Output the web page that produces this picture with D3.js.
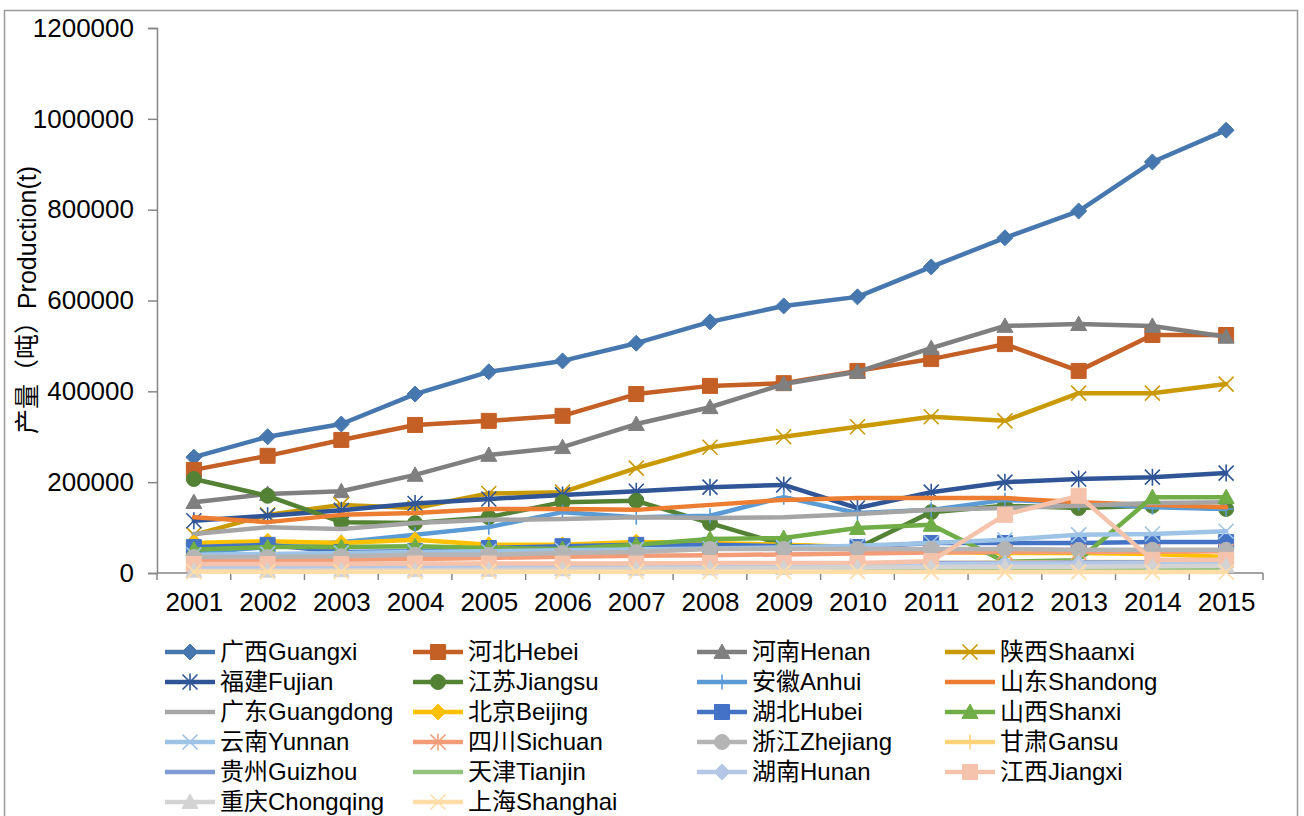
<!DOCTYPE html>
<html>
<head>
<meta charset="utf-8">
<script src="https://cdn.jsdelivr.net/npm/d3@7"></script>
<style>
  body { margin: 0; background: #fff; }
  svg { display: block; }
  text { font-family: "Liberation Sans", Arial, "Noto Sans CJK SC", sans-serif; fill: #000; }
</style>
</head>
<body>
<div id="chart"></div>
<script>
// categories
const years = ["2001", "2002", "2003", "2004", "2005", "2006", "2007", "2008",
  "2009", "2010", "2011", "2012", "2013", "2014", "2015"];
const yTicks = [0, 200000, 400000, 600000, 800000, 1000000, 1200000];

// production (t) per province
const guangxi = [255000, 300000, 328000, 394000, 443000, 467000, 506000, 553000, 588000, 608000, 674000, 738000, 797000, 905000, 975000];
const hebei = [227000, 258000, 293000, 326000, 335000, 346000, 394000, 412000, 418000, 445000, 471000, 504000, 445000, 524000, 524000];
const henan = [156000, 174000, 180000, 216000, 260000, 277000, 328000, 365000, 416000, 443000, 495000, 544000, 548000, 544000, 520000];
const shaanxi = [84000, 128000, 150000, 143000, 175000, 178000, 231000, 277000, 300000, 322000, 344000, 335000, 396000, 396000, 416000];
const fujian = [115000, 126000, 138000, 153000, 163000, 172000, 180000, 189000, 194000, 143000, 178000, 200000, 207000, 211000, 220000];
const jiangsu = [207000, 170000, 112000, 110000, 123000, 156000, 159000, 110000, 62000, 55000, 134000, 148000, 143000, 148000, 141000];
const anhui = [44000, 57000, 68000, 84000, 101000, 134000, 123000, 126000, 167000, 132000, 139000, 161000, 154000, 145000, 141000];
const shandong = [123000, 112000, 128000, 132000, 141000, 141000, 139000, 150000, 161000, 165000, 165000, 165000, 156000, 150000, 145000];
const guangdong = [86000, 101000, 97000, 110000, 117000, 119000, 123000, 121000, 123000, 130000, 139000, 143000, 148000, 154000, 156000];
const beijing = [66000, 70000, 66000, 73000, 62000, 62000, 68000, 66000, 62000, 57000, 46000, 44000, 44000, 42000, 35000];
const hubei = [57000, 62000, 46000, 48000, 55000, 59000, 62000, 62000, 59000, 57000, 66000, 66000, 66000, 68000, 68000];
const shanxi = [52000, 57000, 57000, 59000, 55000, 53000, 62000, 75000, 77000, 99000, 106000, 25000, 28000, 167000, 167000];
const yunnan = [40000, 42000, 44000, 46000, 48000, 50000, 52000, 54000, 56000, 60000, 66000, 73000, 84000, 86000, 92000];
const sichuan = [26000, 27000, 29000, 31000, 33000, 36000, 38000, 39000, 41000, 43000, 45000, 46000, 46000, 47000, 48000];
const zhejiang = [35000, 35000, 37000, 40000, 40000, 44000, 46000, 53000, 53000, 53000, 53000, 53000, 51000, 51000, 51000];
const gansu = [12000, 13000, 14000, 15000, 16000, 17000, 18000, 19000, 20000, 21000, 22000, 23000, 24000, 24000, 25000];
const guizhou = [17000, 17000, 18000, 18000, 19000, 19000, 20000, 20000, 21000, 21000, 22000, 22000, 23000, 23000, 24000];
const tianjin = [6000, 6000, 7000, 7000, 7000, 8000, 8000, 8000, 9000, 9000, 9000, 9000, 10000, 10000, 10000];
const hunan = [11000, 12000, 13000, 14000, 15000, 16000, 16000, 17000, 18000, 19000, 20000, 21000, 21000, 22000, 22000];
const jiangxi = [20000, 20000, 20000, 21000, 21000, 21000, 21000, 22000, 22000, 22000, 26000, 128000, 170000, 29000, 29000];
const chongqing = [5000, 5000, 6000, 6000, 7000, 8000, 9000, 10000, 11000, 12000, 13000, 14000, 14000, 15000, 16000];
const shanghai = [3000, 3000, 3000, 3000, 3000, 3000, 3000, 3000, 3000, 3000, 2000, 2000, 2000, 2000, 2000];

// series table: legend label, values, colour, marker
const series = [
  { name: "广西Guangxi", values: guangxi, color: "#4677ae", marker: "diamond" },
  { name: "河北Hebei", values: hebei, color: "#c45f26", marker: "square" },
  { name: "河南Henan", values: henan, color: "#7f7f7f", marker: "triangle" },
  { name: "陕西Shaanxi", values: shaanxi, color: "#c99a06", marker: "x" },
  { name: "福建Fujian", values: fujian, color: "#2f5597", marker: "star" },
  { name: "江苏Jiangsu", values: jiangsu, color: "#548235", marker: "circle" },
  { name: "安徽Anhui", values: anhui, color: "#5b9bd5", marker: "plus" },
  { name: "山东Shandong", values: shandong, color: "#ed7d31", marker: "none" },
  { name: "广东Guangdong", values: guangdong, color: "#a5a5a5", marker: "none" },
  { name: "北京Beijing", values: beijing, color: "#ffc000", marker: "diamond" },
  { name: "湖北Hubei", values: hubei, color: "#4472c4", marker: "square" },
  { name: "山西Shanxi", values: shanxi, color: "#70ad47", marker: "triangle" },
  { name: "云南Yunnan", values: yunnan, color: "#9dc3e6", marker: "x" },
  { name: "四川Sichuan", values: sichuan, color: "#f29d78", marker: "star" },
  { name: "浙江Zhejiang", values: zhejiang, color: "#b4b4b4", marker: "circle" },
  { name: "甘肃Gansu", values: gansu, color: "#ffd27a", marker: "plus" },
  { name: "贵州Guizhou", values: guizhou, color: "#7e9bd6", marker: "none" },
  { name: "天津Tianjin", values: tianjin, color: "#93c47d", marker: "none" },
  { name: "湖南Hunan", values: hunan, color: "#b4c7e7", marker: "diamond" },
  { name: "江西Jiangxi", values: jiangxi, color: "#f5c3ac", marker: "square" },
  { name: "重庆Chongqing", values: chongqing, color: "#d3d3d3", marker: "triangle" },
  { name: "上海Shanghai", values: shanghai, color: "#ffdca8", marker: "x" }
];

const W = 1304, H = 816;
const margin = { top: 28, right: 41, bottom: 243, left: 157 };
const width = W - margin.left - margin.right;
const height = H - margin.top - margin.bottom;

const svg = d3.select("#chart").append("svg")
  .attr("width", W)
  .attr("height", H);

// outer chart border
svg.append("rect")
  .attr("x", 4.5).attr("y", 10.5)
  .attr("width", 1293).attr("height", 830)
  .attr("fill", "none")
  .attr("stroke", "#999")
  .attr("stroke-width", 1.5);

const g = svg.append("g")
  .attr("transform", "translate(" + margin.left + "," + margin.top + ")");

const x = d3.scalePoint().domain(years).range([0, width]).padding(0.5);
const y = d3.scaleLinear().domain([0, 1200000]).range([height, 0]);
const step = x.step();

// y axis
const yAxis = g.append("g")
  .call(d3.axisLeft(y).tickValues(yTicks).tickFormat(d3.format("d")).tickSize(9).tickPadding(14));
yAxis.select(".domain").attr("stroke", "#868686").attr("stroke-width", 1.5);
yAxis.selectAll(".tick line").attr("stroke", "#868686").attr("stroke-width", 1.5);
yAxis.selectAll(".tick text").attr("font-size", 26).attr("fill", "#000")
  .attr("font-family", "'Liberation Sans', Arial, sans-serif");

// x axis: labels centred in each category, ticks between categories
const xAxis = g.append("g")
  .attr("transform", "translate(0," + height + ")")
  .call(d3.axisBottom(x).tickSize(0).tickPadding(20));
xAxis.select(".domain").remove();
xAxis.selectAll(".tick text").attr("font-size", 26).attr("fill", "#000")
  .attr("font-family", "'Liberation Sans', Arial, sans-serif");
const boundaries = years.map(d => x(d) - step / 2).concat([x(years[years.length - 1]) + step / 2]);
g.append("g").selectAll("line")
  .data(boundaries)
  .join("line")
  .attr("x1", d => d).attr("x2", d => d)
  .attr("y1", height).attr("y2", height + 7)
  .attr("stroke", "#868686").attr("stroke-width", 1.5);
g.append("line")
  .attr("x1", 0).attr("x2", boundaries[boundaries.length - 1])
  .attr("y1", height).attr("y2", height)
  .attr("stroke", "#868686").attr("stroke-width", 1.5);

// y axis title
svg.append("text")
  .attr("transform", "translate(36,300) rotate(-90)")
  .attr("text-anchor", "middle")
  .attr("font-size", 25)
  .text("产量（吨）Production(t)");

// marker shapes centred on 0,0
function markerPath(type, s) {
  const h = s / 2;
  switch (type) {
    case "diamond": return `M0,${-h}L${h},0L0,${h}L${-h},0Z`;
    case "square": return `M${-h},${-h}H${h}V${h}H${-h}Z`;
    case "triangle": return `M0,${-h}L${h},${h * 0.8}L${-h},${h * 0.8}Z`;
    case "circle": return `M${-h},0A${h},${h} 0 1,0 ${h},0A${h},${h} 0 1,0 ${-h},0Z`;
    case "x": return `M${-h},${-h}L${h},${h}M${-h},${h}L${h},${-h}`;
    case "star": return `M${-h},${-h}L${h},${h}M${-h},${h}L${h},${-h}M0,${-h - 1}V${h + 1}`;
    case "plus": return `M0,${-h}V${h}M${-h},0H${h}`;
    default: return "";
  }
}
const filled = t => ["diamond", "square", "triangle", "circle"].includes(t);
const markerSize = t => t === "diamond" ? 16 : t === "triangle" ? 16 : 15;

function drawMarker(sel, s) {
  sel.attr("d", markerPath(s.marker, markerSize(s.marker)))
    .attr("fill", filled(s.marker) ? s.color : "none")
    .attr("stroke", s.color)
    .attr("stroke-width", filled(s.marker) ? 1 : 1.6);
}

const line = d3.line()
  .x((d, i) => x(years[i]))
  .y(d => y(d));

series.forEach(s => {
  const sg = g.append("g");
  sg.append("path")
    .attr("d", line(s.values))
    .attr("fill", "none")
    .attr("stroke", s.color)
    .attr("stroke-width", 4.5)
    .attr("stroke-linejoin", "round")
    .attr("stroke-linecap", "round");
  if (s.marker !== "none") {
    sg.selectAll("path.m")
      .data(s.values)
      .join("path")
      .attr("class", "m")
      .attr("transform", (d, i) => "translate(" + x(years[i]) + "," + y(d) + ")")
      .call(sel => drawMarker(sel, s));
  }
});

// legend
const legendCols = [165, 413, 697, 945];
const legend = svg.append("g");
series.forEach((s, i) => {
  const lx = legendCols[i % 4];
  const ly = 652 + Math.floor(i / 4) * 30;
  const lg = legend.append("g").attr("transform", "translate(" + lx + "," + ly + ")");
  lg.append("line")
    .attr("x1", 0).attr("x2", 50)
    .attr("stroke", s.color).attr("stroke-width", 4.5);
  if (s.marker !== "none") {
    lg.append("path").attr("transform", "translate(25,0)").call(sel => drawMarker(sel, s));
  }
  lg.append("text")
    .attr("x", 55)
    .attr("dy", "0.35em")
    .attr("font-size", 24)
    .text(s.name);
});
</script>
</body>
</html>
